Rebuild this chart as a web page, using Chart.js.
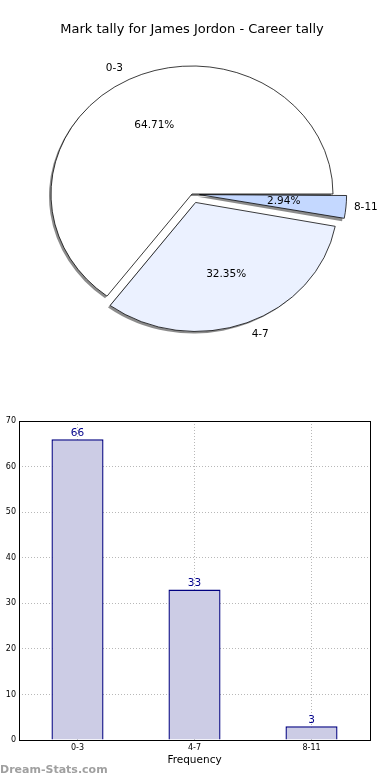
<!DOCTYPE html>
<html>
<head>
<meta charset="utf-8">
<script src="https://cdn.jsdelivr.net/npm/chart.js@4.4.0/dist/chart.umd.min.js"></script>
<style>
  body { margin: 0; background: #fff; width: 390px; height: 780px; position: relative; overflow: hidden; }
  #pieChart { position: absolute; left: 0; top: 0; }
  #barChart { position: absolute; left: 0; top: 400px; }
  #mark { position: absolute; left: 0; top: 763px; font: bold 11px "DejaVu Sans", sans-serif; color: #a0a0a0; }
</style>
</head>
<body>
<canvas id="pieChart" width="390" height="390"></canvas>
<canvas id="barChart" width="390" height="380"></canvas>
<div id="mark">Dream-Stats.com</div>
<script>
// data
const categories = ['0-3', '4-7', '8-11'];
const tally = [66, 33, 3];
const sliceColors = ['#ffffff', '#ebf1ff', '#c4d8ff'];
const explode = [0, 40, 30];
const yTicksMax = 70;

const squash = 0.908; // pie is drawn a bit flatter than round

Chart.defaults.font.family = '"DejaVu Sans", sans-serif';
Chart.defaults.color = '#000';
Chart.defaults.animation = false;

const total = tally.reduce((a, b) => a + b, 0);

// pie goes anticlockwise from east in the original, so feed it reversed
const rev = arr => arr.slice().reverse();

const pieLook = {
    id: 'pieLook',
    beforeDatasetsDraw(chart) {
        const arcs = chart.getDatasetMeta(0).data;
        const cx = arcs[0].x, cy = arcs[0].y;
        const ctx = chart.ctx;
        ctx.save();
        ctx.translate(cx, cy);
        ctx.scale(1, squash);
        ctx.translate(-cx, -cy);
        // grey shadow under each slice
        arcs.forEach(arc => {
            const mid = (arc.startAngle + arc.endAngle) / 2;
            const off = (arc.options.offset || 0) / 4;
            const circ = arc.endAngle - arc.startAngle;
            const fix = 1 - Math.sin(Math.min(Math.PI, circ));
            const ox = arc.x + Math.cos(mid) * off - 2;
            const oy = arc.y + Math.sin(mid) * off + 2 / squash;
            ctx.beginPath();
            ctx.moveTo(ox, oy);
            ctx.arc(ox, oy, arc.outerRadius + off * fix, arc.startAngle, arc.endAngle);
            ctx.closePath();
            ctx.fillStyle = 'rgba(0,0,0,0.45)';
            ctx.fill();
        });
    },
    afterDatasetsDraw(chart) {
        const ctx = chart.ctx;
        ctx.restore();
        const labels = chart.data.labels;
        const values = chart.data.datasets[0].data;
        chart.getDatasetMeta(0).data.forEach((arc, i) => {
            const mid = (arc.startAngle + arc.endAngle) / 2;
            const off = (arc.options.offset || 0) / 4;
            const r = arc.outerRadius;
            const c = Math.cos(mid), s = Math.sin(mid);
            const put = (k) => [arc.x + c * (off + k * r), arc.y + s * (off + k * r) * squash];
            ctx.save();
            ctx.font = '10.5px "DejaVu Sans"';
            ctx.fillStyle = '#000';
            ctx.textBaseline = 'middle';
            let [lx, ly] = put(1.1);
            ctx.textAlign = c >= 0 ? 'left' : 'right';
            ctx.fillText(labels[i], lx, ly);
            let [px, py] = put(0.6);
            ctx.textAlign = 'center';
            ctx.fillText((values[i] / total * 100).toFixed(2) + '%', px, py);
            ctx.restore();
        });
    }
};

new Chart(document.getElementById('pieChart'), {
    type: 'pie',
    data: {
        labels: rev(categories),
        datasets: [{
            data: rev(tally),
            backgroundColor: rev(sliceColors),
            borderColor: '#000',
            borderWidth: 0.8,
            offset: rev(explode),
            radius: 141
        }]
    },
    options: {
        responsive: false,
        rotation: 90,
        layout: { padding: { left: 40, right: 46, top: 0, bottom: 49.6 } },
        plugins: {
            legend: { display: false },
            tooltip: { enabled: false },
            title: {
                display: true,
                text: 'Mark tally for James Jordon - Career tally',
                color: '#000',
                font: { size: 13, weight: 'normal' },
                padding: { top: 22, bottom: 10 }
            }
        }
    },
    plugins: [pieLook]
});

// bar chart below
const barExtras = {
    id: 'barExtras',
    afterDatasetsDraw(chart) {
        const ctx = chart.ctx;
        ctx.save();
        ctx.font = '10.5px "DejaVu Sans"';
        ctx.fillStyle = '#00008b';
        ctx.textAlign = 'center';
        ctx.textBaseline = 'bottom';
        const vals = chart.data.datasets[0].data;
        chart.getDatasetMeta(0).data.forEach((bar, i) => {
            ctx.fillText(String(vals[i]), bar.x, bar.y - 1);
        });
        ctx.restore();
    },
    afterDraw(chart) {
        const ctx = chart.ctx;
        const a = chart.chartArea;
        ctx.save();
        ctx.strokeStyle = '#000';
        ctx.lineWidth = 1;
        ctx.strokeRect(Math.round(a.left) + 0.5, Math.round(a.top) + 0.5, Math.round(a.right - a.left), Math.round(a.bottom - a.top));
        ctx.restore();
    }
};

new Chart(document.getElementById('barChart'), {
    type: 'bar',
    data: {
        labels: categories,
        datasets: [{
            data: tally,
            backgroundColor: '#ccccE5',
            borderColor: '#000080',
            borderWidth: 1.4,
            barPercentage: 0.445,
            categoryPercentage: 1
        }]
    },
    options: {
        responsive: false,
        layout: { padding: { left: 0, right: 20, top: 21, bottom: 0 } },
        plugins: {
            legend: { display: false },
            tooltip: { enabled: false }
        },
        scales: {
            x: {
                offset: true,
                z: 1,
                grid: { offset: false, color: '#b8b8b8', drawTicks: false },
                border: { display: false, dash: [1, 2] },
                ticks: { font: { size: 8 }, padding: 3 },
                title: {
                    display: true,
                    text: 'Frequency',
                    font: { size: 10.5 },
                    padding: { top: 0, bottom: 13 }
                },
                afterFit(scale) { scale.height = 40; }
            },
            y: {
                min: 0,
                max: yTicksMax,
                z: 1,
                grid: { color: '#b8b8b8', drawTicks: false },
                border: { display: false, dash: [1, 2] },
                ticks: { stepSize: 10, font: { size: 8 }, padding: 3 },
                afterFit(scale) { scale.width = 19; }
            }
        }
    },
    plugins: [barExtras]
});
</script>
</body>
</html>
